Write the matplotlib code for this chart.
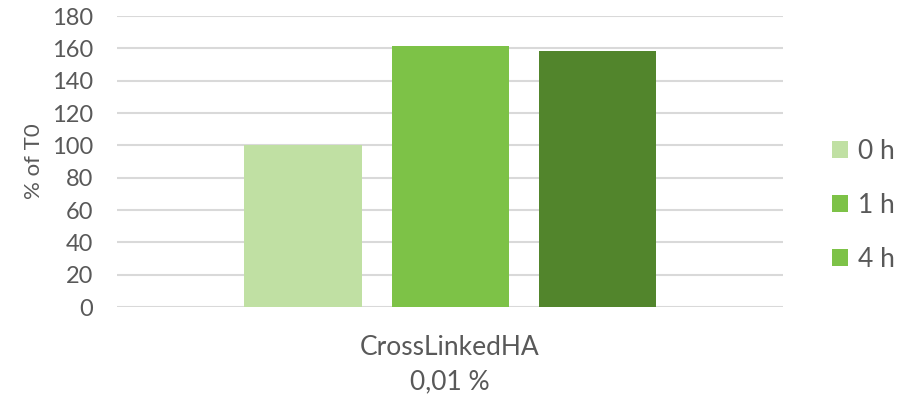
import matplotlib.pyplot as plt
from matplotlib.patches import Patch

# data
category = "CrossLinkedHA\n0,01 %"
series = ["0 h", "1 h", "4 h"]
values = [100, 161.5, 158.5]
bar_colors = ["#C0E0A3", "#7DC247", "#52852C"]
legend_colors = ["#C0E0A3", "#7DC247", "#7DC247"]  # legend swatch for 4 h is as in the original
yticks = [0, 20, 40, 60, 80, 100, 120, 140, 160, 180]

plt.rcParams['font.family'] = ['Lato', 'DejaVu Sans']
txt = "#595959"

fig = plt.figure(figsize=(9.05, 4.03), dpi=100)
ax = fig.add_axes([0.1293, 0.2382, 0.736, 0.722])

pos = [-1, 0, 1]
ax.bar(pos, values, width=0.796, color=bar_colors, zorder=3)

ax.set_ylim(0, 180)
ax.set_xlim(-2.265, 2.265)
ax.set_yticks(yticks)
ax.set_xticks([0])
ax.set_xticklabels([category], fontsize=19, color=txt, linespacing=1.5)
ax.tick_params(axis='y', length=0, labelsize=17, labelcolor=txt, pad=17)
ax.tick_params(axis='x', length=0, pad=20)
ax.grid(axis='y', color="#D9D9D9", linewidth=1.5, zorder=0)
for s in ax.spines.values():
    s.set_visible(False)

ax.set_ylabel("% of T0", fontsize=16, color=txt, labelpad=6)

handles = [Patch(facecolor=c, edgecolor='none') for c in legend_colors]
fig.legend(handles, series, loc='center left', bbox_to_anchor=(0.893, 0.49),
           frameon=False, fontsize=19, labelcolor=txt, handlelength=0.6,
           handleheight=0.6, handletextpad=0.4, labelspacing=1.1)

fig.savefig("out.png", dpi=100)
